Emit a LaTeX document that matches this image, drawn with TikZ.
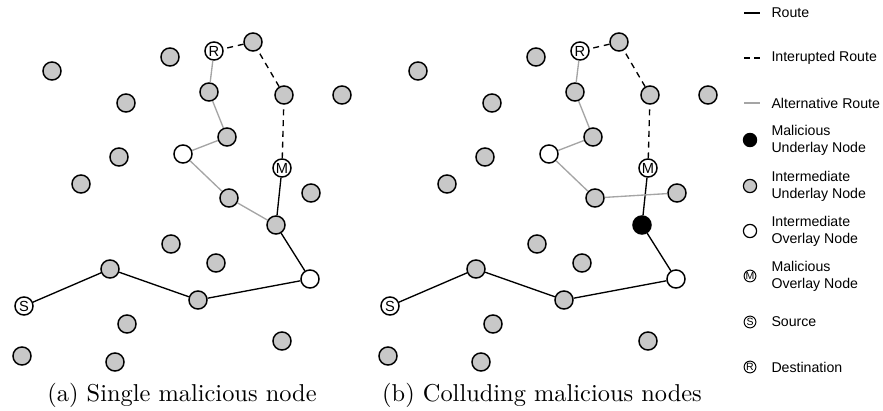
\documentclass[tikz,border=0pt]{standalone}
\usepackage{fontspec}
\newfontfamily\legendfont{Liberation Sans}
\definecolor{nodegray}{RGB}{200,200,200}
\definecolor{altgray}{RGB}{165,165,165}

\tikzset{
  under/.style={circle,draw,line width=0.6pt,fill=nodegray,minimum size=0.26cm,inner sep=0pt},
  overlay node/.style={circle,draw,line width=0.6pt,fill=white,minimum size=0.26cm,inner sep=0pt},
  malunder/.style={circle,draw,line width=0.6pt,fill=black,minimum size=0.26cm,inner sep=0pt},
  lettered/.style={circle,draw,line width=0.6pt,fill=white,minimum size=0.26cm,inner sep=0pt,
    font=\legendfont\fontsize{6}{6}\selectfont},
  route/.style={line width=0.55pt},
  broken/.style={line width=0.55pt,dash pattern=on 2.4pt off 2pt},
  altroute/.style={line width=0.55pt,altgray},
  legtext/.style={anchor=west,align=left,inner sep=0pt,
    font=\legendfont\fontsize{5.8}{7}\selectfont},
  legsym/.style={minimum size=0.19cm,line width=0.5pt},
  legletter/.style={circle,draw,line width=0.4pt,minimum size=0.17cm,inner sep=0pt,
    font=\legendfont\fontsize{4.3}{4.3}\selectfont}
}

\begin{document}
\begin{tikzpicture}[x=0.0144cm,y=-0.0144cm]
\useasboundingbox (0,0) rectangle (883,411);

% both networks, (b) shifted to the right
\foreach \p/\dx in {a/0,b/366}{
  \begin{scope}[xshift=\dx*0.0144cm]
    % idle underlay nodes
    \foreach \x/\y [count=\i] in {52/71,170/57,126/103,342/95,119/157,81/184,
        311/193,171/244,216/263,127/324,282/341,22/356,115/362}{
      \node[under] (\p-g\i) at (\x,\y) {};
    }
    % nodes on the routes
    \node[lettered] (\p-R) at (214,51) {R};
    \node[under] (\p-t1) at (253,42) {};
    \node[under] (\p-u1) at (209,92) {};
    \node[under] (\p-d1) at (284,95) {};
    \node[under] (\p-u2) at (227,137) {};
    \node[overlay node] (\p-o1) at (183,154) {};
    \node[lettered] (\p-M) at (282,168) {M};
    \node[under] (\p-u3) at (229,198) {};
    \node[under] (\p-r1) at (110,269) {};
    \node[overlay node] (\p-o2) at (310,279) {};
    \node[lettered] (\p-S) at (24,306) {S};
    \node[under] (\p-r2) at (198,300) {};
  \end{scope}
}
\node[under] (a-x) at (276,225) {};
\node[malunder] (b-x) at (642,225) {};

% (a) single malicious node
\draw[route] (a-S) -- (a-r1) -- (a-r2) -- (a-o2) -- (a-x) -- (a-M);
\draw[broken] (a-M) -- (a-d1) -- (a-t1) -- (a-R);
\draw[altroute] (a-R) -- (a-u1) -- (a-u2) -- (a-o1) -- (a-u3) -- (a-x);

% (b) colluding malicious nodes
\draw[route] (b-S) -- (b-r1) -- (b-r2) -- (b-o2) -- (b-x) -- (b-M);
\draw[broken] (b-M) -- (b-d1) -- (b-t1) -- (b-R);
\draw[altroute] (b-R) -- (b-u1) -- (b-u2) -- (b-o1) -- (b-u3) -- (b-g7);

\node[font=\normalsize] (capa) at (182,395) {(a) Single malicious node};
\node[font=\normalsize] (capb) at (542,395) {(b) Colluding malicious nodes};

% legend
\draw[route] (744,13) -- (760,13);
\node[legtext] (lroute) at (771,13) {Route};
\draw[line width=0.55pt,dash pattern=on 2.4pt off 1.7pt] (744,58) -- (760,58);
\node[legtext] (lbroken) at (771,58) {Interupted Route};
\draw[altroute] (744,103) -- (760,103);
\node[legtext] (lalt) at (771,103) {Alternative Route};
\node[malunder,legsym] (lmal) at (750,140) {};
\node[legtext] at (771,140) {Malicious\\Underlay Node};
\node[under,legsym] (lunder) at (750,186) {};
\node[legtext] at (771,186) {Intermediate\\Underlay Node};
\node[overlay node,legsym] (lover) at (750,231) {};
\node[legtext] at (771,231) {Intermediate\\Overlay Node};
\node[legletter] (lM) at (750,276) {M};
\node[legtext] at (771,276) {Malicious\\Overlay Node};
\node[legletter] (lS) at (750,322) {S};
\node[legtext] at (771,322) {Source};
\node[legletter] (lR) at (750,367) {R};
\node[legtext] at (771,367) {Destination};
\end{tikzpicture}
\end{document}
